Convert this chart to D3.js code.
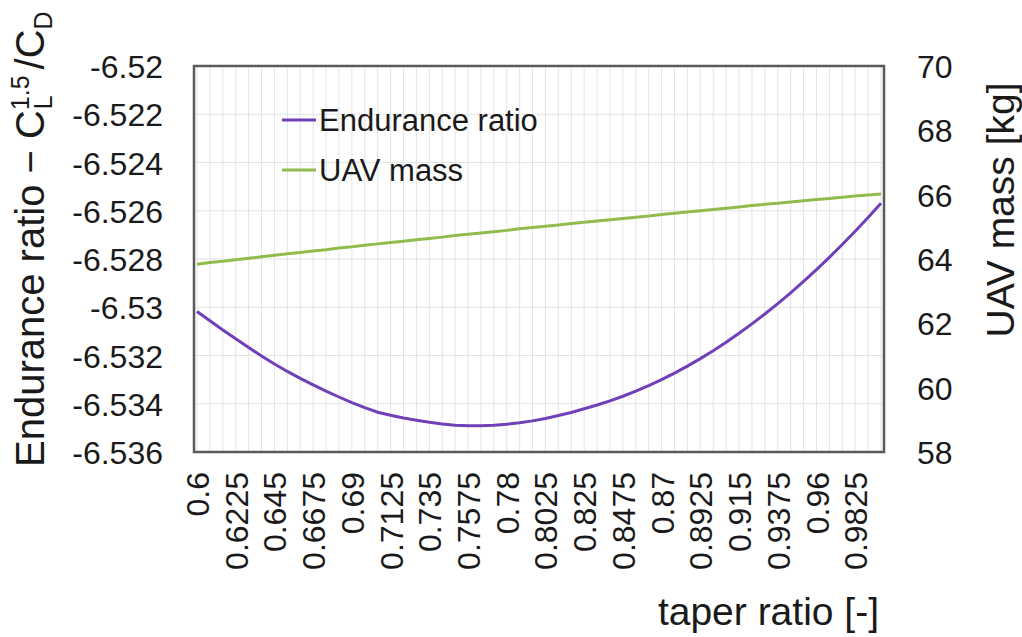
<!DOCTYPE html>
<html>
<head>
<meta charset="utf-8">
<script src="https://cdn.jsdelivr.net/npm/d3@7"></script>
<style>
  body { margin: 0; background: #fff; }
  svg text { font-family: "Liberation Sans", Arial, sans-serif; fill: #1a1a1a; }
</style>
</head>
<body>
<svg width="1022" height="637"></svg>
<script>
// taper ratio categories
var taper = [0.6, 0.6075, 0.615, 0.6225, 0.63, 0.6375, 0.645, 0.6525, 0.66, 0.6675,
  0.675, 0.6825, 0.69, 0.6975, 0.705, 0.7125, 0.72, 0.7275, 0.735, 0.7425,
  0.75, 0.7575, 0.765, 0.7725, 0.78, 0.7875, 0.795, 0.8025, 0.81, 0.8175,
  0.825, 0.8325, 0.84, 0.8475, 0.855, 0.8625, 0.87, 0.8775, 0.885, 0.8925,
  0.9, 0.9075, 0.915, 0.9225, 0.93, 0.9375, 0.945, 0.9525, 0.96, 0.9675,
  0.975, 0.9825, 0.99, 0.9975];

var endurance = [-6.53018, -6.53056, -6.53094, -6.53131, -6.53167, -6.53202, -6.53235, -6.53266, -6.53295, -6.53322,
  -6.53348, -6.53372, -6.53395, -6.53416, -6.53435, -6.53448, -6.53459, -6.53468, -6.53477, -6.53484,
  -6.53489, -6.53491, -6.53491, -6.53489, -6.53485, -6.53479, -6.53471, -6.53461, -6.53449, -6.53436,
  -6.53421, -6.53405, -6.53388, -6.53369, -6.53348, -6.53325, -6.53300, -6.53273, -6.53244, -6.53213,
  -6.53180, -6.53145, -6.53108, -6.53069, -6.53028, -6.52985, -6.52940, -6.52893, -6.52844, -6.52793,
  -6.52740, -6.52685, -6.52628, -6.52569];

var mass = [63.84, 63.89, 63.93, 63.98, 64.02, 64.07, 64.12, 64.16, 64.20, 64.25,
  64.29, 64.34, 64.38, 64.43, 64.47, 64.51, 64.55, 64.60, 64.64, 64.68,
  64.73, 64.77, 64.81, 64.85, 64.89, 64.94, 64.98, 65.02, 65.06, 65.10,
  65.14, 65.18, 65.22, 65.26, 65.30, 65.34, 65.38, 65.42, 65.46, 65.50,
  65.54, 65.58, 65.62, 65.66, 65.70, 65.73, 65.77, 65.81, 65.85, 65.88,
  65.92, 65.96, 65.99, 66.02];

var leftTicks = [-6.52, -6.522, -6.524, -6.526, -6.528, -6.53, -6.532, -6.534, -6.536];
var rightTicks = [58, 60, 62, 64, 66, 68, 70];
var xLabels = [0.6, 0.6225, 0.645, 0.6675, 0.69, 0.7125, 0.735, 0.7575, 0.78, 0.8025,
  0.825, 0.8475, 0.87, 0.8925, 0.915, 0.9375, 0.96, 0.9825];

var svg = d3.select("svg");

var x = d3.scalePoint().domain(taper).range([197, 881]);
var yL = d3.scaleLinear().domain([-6.536, -6.52]).range([452, 66]);
var yR = d3.scaleLinear().domain([58, 70]).range([452, 66]);

// grid
var grid = svg.append("g");
grid.selectAll(".vg")
  .data(taper)
  .join("line")
  .attr("x1", function (d) { return x(d); })
  .attr("x2", function (d) { return x(d); })
  .attr("y1", 66).attr("y2", 452)
  .attr("stroke", "#e4e4e4").attr("stroke-width", 1);
grid.selectAll(".hg")
  .data(leftTicks)
  .join("line")
  .attr("x1", 195).attr("x2", 883)
  .attr("y1", function (d) { return yL(d); })
  .attr("y2", function (d) { return yL(d); })
  .attr("stroke", "#e4e4e4").attr("stroke-width", 1);

// lines
var lineE = d3.line()
  .x(function (d, i) { return x(taper[i]); })
  .y(function (d) { return yL(d); });
var lineM = d3.line()
  .x(function (d, i) { return x(taper[i]); })
  .y(function (d) { return yR(d); });

svg.append("path").datum(mass)
  .attr("d", lineM).attr("fill", "none")
  .attr("stroke", "#8fbc4c").attr("stroke-width", 3);
svg.append("path").datum(endurance)
  .attr("d", lineE).attr("fill", "none")
  .attr("stroke", "#7040b8").attr("stroke-width", 3);

// frame
svg.append("rect")
  .attr("x", 194).attr("y", 66).attr("width", 690).attr("height", 386)
  .attr("fill", "none").attr("stroke", "#5a5a5a").attr("stroke-width", 2.5);

// axes
var axL = svg.append("g").attr("transform", "translate(194,0)")
  .call(d3.axisLeft(yL).tickValues(leftTicks).tickSize(0).tickPadding(31)
    .tickFormat(function (d) { return String(d); }));
var axR = svg.append("g").attr("transform", "translate(884,0)")
  .call(d3.axisRight(yR).tickValues(rightTicks).tickSize(0).tickPadding(33));
var axB = svg.append("g").attr("transform", "translate(0,452)")
  .call(d3.axisBottom(x).tickValues(xLabels).tickSize(0)
    .tickFormat(function (d) { return String(d); }));

[axL, axR, axB].forEach(function (a) {
  a.select(".domain").remove();
  a.selectAll("text").style("font-size", "32px").attr("fill", "#1a1a1a");
});
axL.selectAll("text").attr("dy", "0.36em");
axR.selectAll("text").attr("dy", "0.36em");

axB.selectAll("text")
  .attr("transform", "rotate(-90)")
  .attr("text-anchor", "end")
  .attr("x", -20)
  .attr("y", 0)
  .attr("dy", "0.36em");

// titles
svg.append("text")
  .attr("x", 879).attr("y", 625)
  .attr("text-anchor", "end")
  .style("font-size", "39px")
  .text("taper ratio [-]");

svg.append("text")
  .attr("transform", "translate(1014,210) rotate(-90)")
  .attr("text-anchor", "middle")
  .style("font-size", "39px")
  .text("UAV mass [kg]");

var lt = svg.append("text")
  .attr("transform", "translate(44,467) rotate(-90)")
  .attr("text-anchor", "start")
  .style("font-size", "40px");
lt.append("tspan").text("Endurance ratio \u2212 C");
lt.append("tspan").attr("dy", -15).style("font-size", "25px").text("1.5");
lt.append("tspan").attr("dx", -34).attr("dy", 23).style("font-size", "25px").text("L");
lt.append("tspan").attr("dx", 26).attr("dy", -8).text("/C");
lt.append("tspan").attr("dy", 8).style("font-size", "25px").text("D");

// legend
var legend = [
  { name: "Endurance ratio", color: "#7040b8", y: 120 },
  { name: "UAV mass", color: "#8fbc4c", y: 170 }
];
var lg = svg.append("g").selectAll("g").data(legend).join("g");
lg.append("line")
  .attr("x1", 282).attr("x2", 316)
  .attr("y1", function (d) { return d.y; }).attr("y2", function (d) { return d.y; })
  .attr("stroke", function (d) { return d.color; }).attr("stroke-width", 3);
lg.append("text")
  .attr("x", 319).attr("y", function (d) { return d.y; })
  .attr("dy", "0.36em")
  .style("font-size", "31px")
  .text(function (d) { return d.name; });
</script>
</body>
</html>
